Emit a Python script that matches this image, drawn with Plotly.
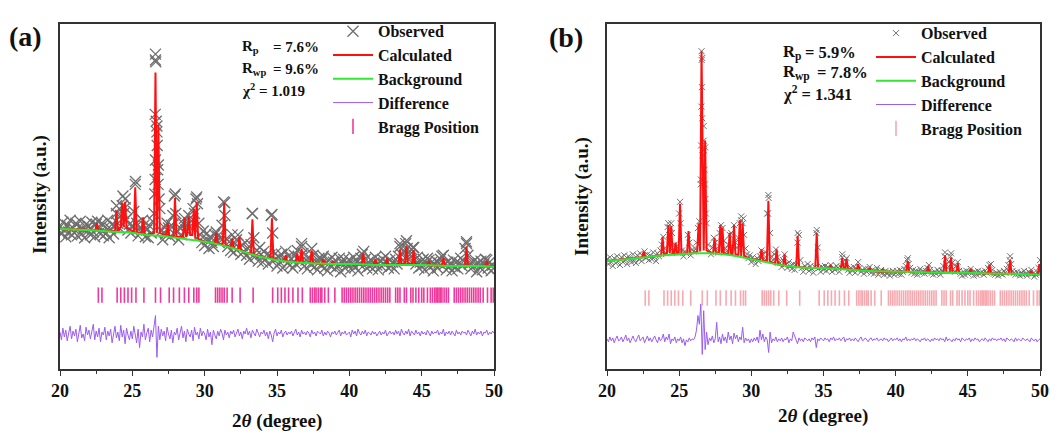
import numpy as np
import plotly.graph_objects as go

# ---------------- data (intensity in arbitrary units, offset-stacked) ----------------
two_theta = np.round(np.arange(20.0, 50.0001, 0.1), 2)

# panel (a)
obs_a = [
    146, 139, 151, 143, 136, 148, 141, 153, 138, 145,
    140, 150, 137, 146, 152, 139, 144, 135, 149, 142,
    147, 138, 151, 141, 136, 149, 152, 145, 139, 150,
    137, 146, 140, 153, 135, 144, 149, 139, 147, 160,
    150, 145, 158, 168, 160, 166, 154, 143, 149, 140,
    147, 162, 190, 150, 137, 145, 141, 153, 148, 136,
    143, 135, 147, 140, 152, 160, 318, 250, 210, 165,
    142, 133, 146, 139, 150, 145, 136, 148, 158, 178,
    160, 141, 133, 145, 138, 150, 155, 143, 148, 158,
    147, 152, 165, 160, 175, 170, 150, 138, 130, 142,
    127, 139, 133, 124, 136, 130, 126, 138, 141, 137,
    130, 135, 148, 172, 158, 134, 126, 131, 122, 138,
    120, 129, 133, 138, 125, 118, 127, 121, 130, 117,
    124, 113, 128, 160, 135, 116, 122, 111, 125, 118,
    110, 121, 113, 118, 108, 117, 158, 140, 112, 119,
    106, 115, 110, 118, 104, 113, 121, 109, 116, 107,
    113, 104, 117, 108, 122, 115, 110, 126, 119, 106,
    112, 103, 115, 108, 124, 117, 105, 111, 102, 114,
    107, 113, 116, 104, 110, 101, 112, 106, 115, 110,
    103, 111, 106, 114, 100, 109, 113, 104, 110, 107,
    112, 103, 109, 115, 105, 111, 101, 108, 114, 118,
    121, 113, 104, 110, 106, 112, 103, 109, 115, 107,
    102, 111, 106, 113, 108, 116, 110, 104, 112, 106,
    110, 103, 113, 108, 116, 126, 118, 112, 120, 129,
    124, 113, 118, 123, 125, 112, 108, 115, 104, 110,
    106, 113, 102, 109, 114, 112, 105, 110, 101, 108,
    111, 104, 109, 113, 116, 117, 108, 102, 110, 105,
    108, 101, 112, 105, 110, 103, 109, 114, 106, 111,
    124, 129, 117, 108, 103, 110, 106, 112, 100, 109,
    105, 111, 102, 108, 113, 112, 104, 110, 101, 107,
    104,
]
obs_a_peak_x = [26.60, 26.62, 26.58, 26.65, 26.70, 26.72, 26.60, 26.75, 26.58, 26.78, 26.55, 26.85,
                25.22, 27.97, 29.45, 31.38, 33.30, 34.65, 24.35, 23.90, 24.50, 36.70, 43.95, 48.10, 43.50, 44.45]
obs_a_peak_y = [324, 316, 262, 255, 244, 230, 215, 205, 195, 190, 180, 175,
                193, 180, 177, 171, 160, 159, 178, 168, 175, 129, 132, 131, 129, 125]

bg_a_x = [20, 21, 22, 23, 24, 25, 26, 27, 28, 29, 30, 31, 32, 33, 34, 35, 36, 37, 38, 39, 40,
          41, 42, 43, 44, 45, 46, 47, 48, 49, 50]
bg_a_y = [144, 143.5, 143, 142, 141, 140, 138, 137, 135, 133, 131, 128, 124, 119, 115, 112, 110, 109,
          108.5, 108, 108, 107.5, 107, 107, 107, 107, 106.5, 106, 106, 106, 105]

peak_a_pos = [22.55, 23.9, 24.3, 24.5, 25.2, 25.75, 26.6, 26.8, 27.45, 27.95, 28.6, 28.9, 29.25, 29.45,
              30.8, 31.35, 31.9, 32.4, 33.3, 34.65, 35.6, 36.4, 36.7, 37.4, 38.2, 38.85, 40.95, 41.8,
              42.6, 43.5, 43.95, 44.45, 45.5, 46.5, 48.1, 49.5]
peak_a_top = [150, 163, 171, 172, 187, 156, 305, 251, 150, 176, 156, 157, 165, 172,
              140, 171, 134, 136, 154, 155, 117, 119, 124, 122, 113, 111, 119, 113,
              114, 123, 127, 122, 111, 114, 126, 111]
peak_a_base = [143, 142, 146, 146, 141, 139, 140, 140, 137, 136, 136, 138, 138, 134,
               129, 128, 125, 122, 118, 114, 111, 110, 110, 109, 108, 108, 107, 107,
               107, 108, 109, 108, 107, 106, 106, 106]

diff_a = [
    38, 30, 42, 33, 40, 29, 37, 44, 31, 39,
    34, 41, 28, 38, 45, 32, 36, 29, 43, 35,
    40, 31, 37, 46, 30, 39, 33, 42, 28, 38,
    35, 43, 30, 39, 34, 41, 27, 37, 44, 32,
    38, 29, 45, 33, 40, 26, 42, 35, 30, 39,
    31, 44, 36, 27, 41, 22, 38, 33, 46, 30,
    37, 42, 28, 40, 33, 46, 55, 12, 44, 30,
    41, 34, 39, 29, 43, 36, 31, 40, 27, 38,
    35, 42, 30, 37, 44, 32, 39, 28, 41, 36,
    33, 40, 29, 43, 35, 38, 31, 42, 34, 39,
    36, 30, 41, 33, 38, 25, 40, 35, 31, 39,
    34, 41, 37, 30, 40, 35, 38, 32, 39, 36,
    40, 33, 37, 41, 34, 38, 31, 39, 36, 42,
    35, 39, 32, 40, 37, 34, 41, 36, 33, 38,
    36, 40, 34, 38, 31, 39, 35, 28, 37, 41,
    34, 38, 36, 40, 33, 37, 39, 35, 38, 36,
    39, 34, 37, 41, 35, 38, 33, 40, 36, 38,
    35, 39, 37, 33, 40, 36, 38, 34, 39, 37,
    36, 40, 34, 38, 35, 39, 37, 33, 38, 36,
    39, 35, 37, 40, 34, 38, 36, 39, 35, 37,
    38, 33, 40, 36, 39, 34, 41, 37, 35, 39,
    36, 40, 34, 38, 37, 35, 39, 36, 38, 34,
    37, 39, 35, 38, 36, 40, 34, 37, 39, 36,
    38, 35, 40, 36, 39, 34, 41, 37, 35, 39,
    36, 41, 34, 39, 37, 35, 40, 36, 38, 34,
    39, 36, 38, 35, 40, 37, 34, 39, 36, 38,
    37, 40, 35, 38, 36, 41, 34, 38, 36, 39,
    35, 39, 37, 34, 40, 36, 38, 35, 39, 37,
    38, 35, 40, 37, 34, 39, 36, 41, 35, 38,
    36, 39, 34, 38, 37, 40, 35, 38, 36, 39,
    37,
]

# panel (b)
obs_b = [
    113, 108, 115, 110, 106, 114, 109, 116, 111, 107,
    115, 110, 117, 112, 108, 116, 113, 110, 118, 111,
    109, 117, 113, 119, 111, 116, 121, 114, 118, 112,
    117, 113, 120, 115, 111, 119, 116, 122, 128, 136,
    124, 119, 146, 138, 145, 140, 121, 128, 126, 120,
    160, 150, 122, 116, 121, 119, 138, 130, 117, 123,
    121, 124, 130, 145, 152, 190, 320, 250, 228, 150,
    128, 122, 118, 125, 135, 130, 124, 120, 140, 148,
    145, 132, 124, 121, 128, 138, 140, 126, 148, 130,
    125, 135, 150, 153, 150, 138, 124, 118, 114, 117,
    110, 115, 112, 108, 114, 111, 116, 122, 118, 114,
    120, 160, 176, 140, 116, 112, 118, 123, 115, 110,
    109, 105, 112, 118, 108, 104, 110, 106, 103, 108,
    102, 107, 130, 138, 112, 104, 100, 106, 103, 108,
    101, 106, 103, 99, 105, 140, 125, 104, 100, 105,
    102, 106, 101, 105, 103, 107, 100, 104, 102, 106,
    104, 100, 105, 115, 108, 112, 114, 102, 99, 104,
    101, 105, 99, 103, 110, 104, 100, 102, 98, 103,
    100, 103, 105, 99, 102, 98, 101, 104, 97, 100,
    102, 99, 97, 101, 98, 100, 96, 99, 101, 97,
    99, 101, 98, 102, 97, 100, 103, 106, 112, 108,
    104, 99, 102, 98, 101, 97, 100, 103, 99, 101,
    98, 101, 104, 107, 102, 99, 97, 100, 98, 102,
    100, 97, 101, 106, 116, 108, 104, 110, 116, 109,
    103, 100, 106, 110, 101, 98, 96, 100, 97, 101,
    98, 100, 103, 99, 96, 100, 97, 101, 98, 99,
    100, 97, 101, 99, 104, 107, 108, 102, 98, 97,
    99, 96, 100, 98, 97, 101, 99, 103, 107, 112,
    108, 101, 99, 97, 100, 98, 96, 99, 97, 101,
    98, 96, 100, 99, 102, 98, 95, 97, 100, 104,
    112,
]
obs_b_peak_x = [26.55, 26.56, 26.58, 26.54, 26.60, 26.52, 26.62, 26.50, 26.70, 26.72, 26.75, 26.78,
                26.82, 26.85, 31.18, 31.15, 33.21, 34.53, 25.06, 24.25, 24.45, 29.30, 29.45, 40.84,
                43.42, 43.84, 47.93, 36.30]
obs_b_peak_y = [327, 318, 290, 270, 258, 230, 220, 195, 235, 225, 205, 190,
                175, 160, 179, 160, 140, 143, 172, 150, 150, 157, 155, 114,
                120, 119, 116, 118]

bg_b_x = [20, 21, 22, 23, 24, 25, 26, 27, 28, 29, 30, 31, 32, 33, 34, 35, 36, 37, 38, 39, 40,
          41, 42, 43, 44, 45, 46, 47, 48, 49, 50]
bg_b_y = [111, 112.5, 114, 115.5, 117, 118, 119, 119, 118, 116, 113, 110, 107, 105, 104, 104, 103, 102,
          101, 100.5, 100, 100, 99.5, 99, 99, 99, 98.5, 98, 98, 97.5, 97]

peak_b_pos = [22.55, 23.85, 24.25, 24.45, 24.75, 25.06, 25.65, 26.35, 26.55, 26.8, 27.45, 27.85, 28.0,
              28.5, 28.8, 29.2, 29.4, 30.7, 31.18, 31.75, 32.3, 33.21, 34.53, 35.5, 36.3, 36.6,
              37.4, 38.2, 39.1, 40.84, 42.25, 43.42, 43.84, 44.3, 45.2, 46.5, 47.93, 49.4, 49.95]
peak_b_top = [121, 136, 148, 147, 130, 170, 142, 150, 327, 235, 135, 148, 145,
              140, 148, 153, 150, 123, 173, 123, 118, 137, 140, 106, 114, 113,
              108, 104, 103, 111, 106, 117, 115, 109, 103, 107, 112, 101, 108]
peak_b_base = [115, 117, 119, 119, 118, 118, 119, 121, 125, 122, 119, 119, 119,
               118, 118, 117, 116, 112, 111, 108, 106, 105, 104, 104, 103, 103,
               102, 101, 100, 100, 99, 99, 99, 99, 99, 98, 98, 97, 97]

diff_b = [
    31, 28, 33, 29, 32, 27, 31, 34, 29, 30,
    33, 28, 31, 35, 29, 32, 27, 31, 34, 30,
    28, 32, 35, 29, 31, 33, 27, 30, 34, 29,
    32, 28, 31, 34, 30, 27, 33, 29, 31, 36,
    28, 33, 30, 36, 26, 31, 29, 33, 27, 31,
    29, 33, 27, 31, 24, 30, 28, 32, 29, 31,
    30, 33, 40, 55, 46, 67, 15, 60, 20, 38,
    25, 32, 29, 34, 27, 31, 48, 28, 33, 26,
    36, 29, 33, 27, 38, 30, 34, 26, 37, 31,
    35, 28, 33, 30, 43, 27, 32, 29, 31, 27,
    31, 28, 32, 29, 33, 27, 40, 30, 36, 28,
    33, 30, 17, 38, 27, 31, 29, 33, 28, 31,
    29, 32, 28, 31, 30, 33, 27, 31, 29, 38,
    34, 30, 26, 32, 29, 31, 28, 32, 30, 29,
    31, 28, 32, 30, 33, 22, 31, 29, 32, 30,
    29, 32, 30, 31, 28, 32, 30, 33, 29, 31,
    30, 32, 29, 31, 33, 28, 31, 30, 32, 29,
    31, 29, 32, 30, 28, 31, 33, 29, 30, 32,
    30, 28, 31, 32, 29, 31, 30, 32, 29, 30,
    31, 29, 32, 30, 31, 28, 30, 32, 29, 31,
    30, 32, 29, 31, 28, 31, 30, 33, 29, 31,
    29, 31, 30, 32, 29, 31, 30, 28, 31, 30,
    32, 29, 31, 30, 28, 31, 29, 32, 30, 31,
    29, 32, 30, 31, 28, 33, 29, 31, 30, 28,
    31, 29, 32, 30, 31, 28, 32, 30, 29, 31,
    30, 32, 28, 31, 29, 32, 30, 31, 28, 30,
    31, 29, 32, 30, 28, 31, 29, 32, 30, 31,
    29, 31, 30, 32, 29, 31, 28, 32, 30, 29,
    31, 30, 28, 32, 29, 31, 30, 29, 32, 30,
    29, 31, 30, 28, 32, 30, 29, 31, 28, 30,
    31,
]

# Bragg reflection positions (same phase in both panels)
bragg_pos = [22.65, 22.9,
             23.95, 24.2, 24.45, 24.7, 24.95, 25.25, 25.8,
             26.6, 26.95, 27.55, 27.85, 28.25, 28.6, 28.9, 29.25, 29.45, 29.6,
             30.75, 30.9, 31.05, 31.2, 31.35, 31.55, 31.9, 32.45,
             33.35,
             34.7, 35.05, 35.3, 35.55, 35.8, 36.1, 36.45, 36.75,
             37.3, 37.45, 37.6, 37.7, 37.85, 38.0, 38.1, 38.3, 38.55, 39.0,
             39.5, 39.65, 39.8, 39.95, 40.1, 40.25, 40.4, 40.55, 40.7, 40.85, 41.0, 41.15, 41.3,
             41.45, 41.6, 41.75, 41.9, 42.05, 42.2, 42.35, 42.5, 42.65, 42.8,
             43.2, 43.35, 43.5, 43.8, 43.95, 44.25, 44.4, 44.6, 44.8, 45.0, 45.15, 45.4, 45.6,
             45.75, 45.9, 46.0, 46.1, 46.2, 46.3, 46.4, 46.55, 46.7, 46.85,
             47.25, 47.4, 47.55, 47.7, 47.85, 48.0, 48.15, 48.3, 48.45, 48.6, 48.75, 48.9,
             49.05, 49.25, 49.55, 49.8, 49.95]
bragg_level_a = 76
bragg_level_b = 73

# ---------------- helpers ----------------
PEAK_HALF_WIDTH = 0.1


def calc_polyline(bx, by, pos, top, base):
    pts = []
    for x, y in zip(bx, by):
        if min(abs(x - p) for p in pos) > 0.2:
            pts.append((x, y))
    for p, t, b in zip(pos, top, base):
        pts.append((p - PEAK_HALF_WIDTH, b))
        pts.append((p, t))
        pts.append((p + PEAK_HALF_WIDTH, b))
    pts.sort(key=lambda q: q[0])
    return [q[0] for q in pts], [q[1] for q in pts]


FONT = "Liberation Serif, Times New Roman, serif"
TXT = "#111111"
GRAY = "#6e6e6e"
RED = "#ff1010"
GREEN = "#33e633"
PURPLE = "#9b5cf2"
PINK_A = "#f0399b"
PINK_B = "#f7a9b0"

# page body has an 8px margin: the figure is drawn 8px right/down of the window corner
OFF = 8
W, H = 1062 - OFF, 434 - OFF
PL, PR, PT, PB = 60, 1040, 14, 369  # plot area in window pixels

fig = go.Figure()


def add_panel(xa, ya, legend, obs, opx, opy, bgx, bgy, ppos, ptop, pbase, diff, bragg_level,
              marker_size, marker_lw, pink):
    ox = list(two_theta) + opx
    oy = list(obs) + opy
    fig.add_trace(go.Scatter(
        x=ox, y=oy, mode="markers", name="Observed", legend=legend,
        marker=dict(symbol="x-thin-open", size=marker_size, color=GRAY,
                    line=dict(width=marker_lw, color=GRAY)),
        xaxis=xa, yaxis=ya))
    cx, cy = calc_polyline(bgx, bgy, ppos, ptop, pbase)
    fig.add_trace(go.Scatter(
        x=cx, y=cy, mode="lines", name="Calculated", legend=legend,
        line=dict(color=RED, width=2), xaxis=xa, yaxis=ya))
    fig.add_trace(go.Scatter(
        x=bgx, y=bgy, mode="lines", name="Background", legend=legend,
        line=dict(color=GREEN, width=2, shape="spline"), xaxis=xa, yaxis=ya))
    fig.add_trace(go.Scatter(
        x=two_theta, y=diff, mode="lines", name="Difference", legend=legend,
        line=dict(color=PURPLE, width=1), xaxis=xa, yaxis=ya))
    fig.add_trace(go.Scatter(
        x=bragg_pos, y=[bragg_level] * len(bragg_pos), mode="markers", name="Bragg Position",
        legend=legend,
        marker=dict(symbol="line-ns", size=11, color=pink, line=dict(width=1.6, color=pink)),
        xaxis=xa, yaxis=ya))


add_panel("x", "y", "legend", obs_a, obs_a_peak_x, obs_a_peak_y, bg_a_x, bg_a_y,
          peak_a_pos, peak_a_top, peak_a_base, diff_a, bragg_level_a, 11, 1.3, PINK_A)
add_panel("x2", "y2", "legend2", obs_b, obs_b_peak_x, obs_b_peak_y, bg_b_x, bg_b_y,
          peak_b_pos, peak_b_top, peak_b_base, diff_b, bragg_level_b, 6, 1, PINK_B)


def px_x(px):
    return (px - PL) / (PR - PL)


def px_y(py):
    return (PB - py) / (PB - PT)


xcommon = dict(range=[20, 50], dtick=5, tick0=20, ticks="outside", ticklen=5, tickwidth=1.2,
               tickcolor="#333", showline=True, linecolor="#333", linewidth=1.5, mirror=True,
               showgrid=False, zeroline=False,
               minor=dict(dtick=2.5, ticks="outside", ticklen=3, tickcolor="#333", showgrid=False),
               tickfont=dict(family=FONT, size=18, color=TXT, weight="bold"))
ycommon = dict(range=[0, 355], showticklabels=False, ticks="", showline=True, linecolor="#333",
               linewidth=1.5, mirror=True, showgrid=False, zeroline=False)

legend_common = dict(font=dict(family=FONT, size=16, color=TXT, weight="bold"),
                     bgcolor="rgba(0,0,0,0)", borderwidth=0, tracegroupgap=0,
                     xanchor="left", yanchor="top", itemwidth=40)

fig.update_layout(
    width=W, height=H,
    margin=dict(l=PL - OFF, r=W - (PR - OFF), t=PT - OFF, b=H - (PB - OFF)),
    paper_bgcolor="white", plot_bgcolor="white",
    xaxis=dict(domain=[0, px_x(494)], **xcommon),
    yaxis=dict(domain=[0, 1], **ycommon),
    xaxis2=dict(domain=[px_x(607), 1.0], anchor="y2", **xcommon),
    yaxis2=dict(domain=[0, 1], anchor="x2", **ycommon),
    legend=dict(x=px_x(328), y=px_y(4), **legend_common),
    legend2=dict(x=px_x(871), y=px_y(6), **legend_common),
)

ann = []


def txt(px, py, s, size=15, xanchor="left", angle=0):
    ann.append(dict(xref="paper", yref="paper", x=px_x(px), y=px_y(py), text=s, showarrow=False,
                    xanchor=xanchor, yanchor="middle", textangle=angle,
                    font=dict(family=FONT, size=size, color=TXT, weight="bold")))


# panel labels
txt(25, 27, "(a)", size=28, xanchor="center")
txt(566, 28, "(b)", size=28, xanchor="center")
# axis titles
txt(277, 422, "2<i>θ</i> (degree)", size=19, xanchor="center")
txt(823, 417, "2<i>θ</i> (degree)", size=19, xanchor="center")
txt(40, 190, "Intensity (a.u.)", size=19, xanchor="center", angle=-90)
txt(582, 192, "Intensity (a.u.)", size=19, xanchor="center", angle=-90)
# refinement statistics
txt(240, 38, "R<sub>p</sub>", size=15)
txt(271, 38, "= 7.6%", size=15)
txt(240, 60, "R<sub>wp</sub>", size=15)
txt(271, 60, "= 9.6%", size=15)
txt(240, 82, "χ<sup>2</sup> = 1.019", size=15)
txt(781, 43, "R<sub>p</sub>", size=16.5)
txt(803, 43, "= 5.9%", size=16.5)
txt(781, 64, "R<sub>wp</sub>", size=16.5)
txt(815, 64, "= 7.8%", size=16.5)
txt(781, 86, "χ<sup>2</sup> = 1.341", size=16.5)

fig.update_layout(annotations=ann)
fig.write_html("out.html")
